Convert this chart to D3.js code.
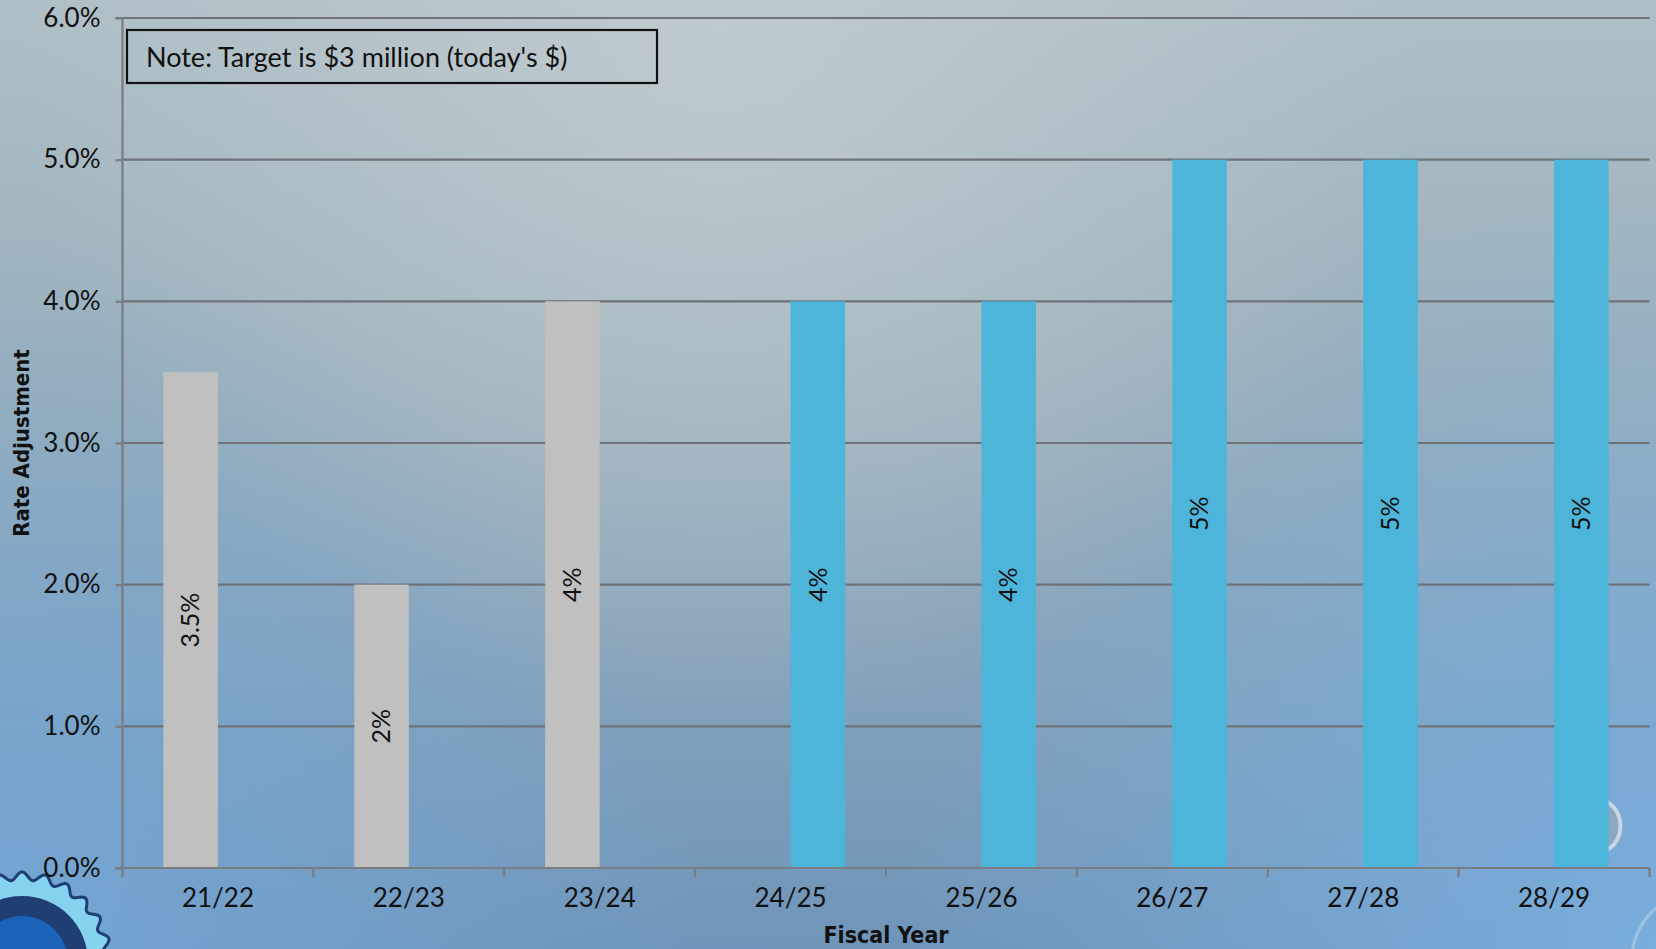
<!DOCTYPE html>
<html>
<head>
<meta charset="utf-8">
<script src="https://cdn.jsdelivr.net/npm/d3@7/dist/d3.min.js"></script>
<style>
  html, body { margin: 0; padding: 0; overflow: hidden; }
  svg { display: block; }
</style>
</head>
<body>
<svg id="chart" width="1656" height="949"></svg>
<script>
// ---- Data ----
const categories = ["21/22", "22/23", "23/24", "24/25", "25/26", "26/27", "27/28", "28/29"];
const seriesNames = ["Adopted", "Projected"];
const adoptedValues = [3.5, 2, 4, null, null, null, null, null];
const projectedValues = [null, null, null, 4, 4, 5, 5, 5];
const adoptedLabels = ["3.5%", "2%", "4%", null, null, null, null, null];
const projectedLabels = [null, null, null, "4%", "4%", "5%", "5%", "5%"];
const yTickValues = [0, 1, 2, 3, 4, 5, 6];
const noteText = "Note: Target is $3 million (today's $)";
const xTitle = "Fiscal Year";
const yTitle = "Rate Adjustment";

// ---- Layout ----
const W = 1656, H = 949;
const plot = { left: 122.5, right: 1649.5, top: 18, bottom: 868 };
const tickFont = "Lato, 'Noto Sans', sans-serif";
const titleFont = "'Liberation Sans Narrow', 'DejaVu Sans Condensed', 'Roboto', sans-serif";

const svg = d3.select("#chart");
const defs = svg.append("defs");

// Background: vertical base + radial highlight + blue bottom corners
const base = defs.append("linearGradient").attr("id", "bgBase")
  .attr("x1", 0).attr("x2", 0).attr("y1", 0).attr("y2", 1);
base.append("stop").attr("offset", 0).attr("stop-color", "#afbfc6");
base.append("stop").attr("offset", 0.45).attr("stop-color", "#97adba");
base.append("stop").attr("offset", 1).attr("stop-color", "#6f95ba");

const hi = defs.append("radialGradient").attr("id", "bgHi")
  .attr("gradientUnits", "userSpaceOnUse")
  .attr("cx", 720).attr("cy", 30).attr("r", 700);
hi.append("stop").attr("offset", 0).attr("stop-color", "#c2ccd0").attr("stop-opacity", 0.85);
hi.append("stop").attr("offset", 1).attr("stop-color", "#c2ccd0").attr("stop-opacity", 0);

const cornerL = defs.append("radialGradient").attr("id", "cornerL")
  .attr("gradientUnits", "userSpaceOnUse")
  .attr("cx", 0).attr("cy", 949).attr("r", 700);
cornerL.append("stop").attr("offset", 0).attr("stop-color", "#74a8d8").attr("stop-opacity", 0.85);
cornerL.append("stop").attr("offset", 1).attr("stop-color", "#74a8d8").attr("stop-opacity", 0);

const cornerR = defs.append("radialGradient").attr("id", "cornerR")
  .attr("gradientUnits", "userSpaceOnUse")
  .attr("cx", 1656).attr("cy", 949).attr("r", 750);
cornerR.append("stop").attr("offset", 0).attr("stop-color", "#7ab0e0").attr("stop-opacity", 0.9);
cornerR.append("stop").attr("offset", 1).attr("stop-color", "#7ab0e0").attr("stop-opacity", 0);

svg.append("rect").attr("width", W).attr("height", H).attr("fill", "url(#bgBase)");
svg.append("rect").attr("width", W).attr("height", H).attr("fill", "url(#bgHi)");
svg.append("rect").attr("width", W).attr("height", H).attr("fill", "url(#cornerL)");
svg.append("rect").attr("width", W).attr("height", H).attr("fill", "url(#cornerR)");

// ---- Decorations (logo fragment bottom-left, bubbles bottom-right) ----
const deco = svg.append("g").attr("class", "decoration");
(function gear() {
  const cx = 22, cy = 962, rOut = 90, rIn = 82, teeth = 24;
  const pts = [];
  for (let i = 0; i <= 720; i++) {
    const a = i / 720 * 2 * Math.PI;
    const r = (rOut + rIn) / 2 + (rOut - rIn) / 2 * Math.cos(a * teeth);
    pts.push([cx + r * Math.cos(a), cy + r * Math.sin(a)]);
  }
  deco.append("path").attr("d", d3.line()(pts) + "Z")
    .attr("fill", "#85d3ee").attr("stroke", "#1d3f73").attr("stroke-width", 3);
  deco.append("circle").attr("cx", cx).attr("cy", cy).attr("r", 66)
    .attr("fill", "#1f3f72");
  deco.append("circle").attr("cx", cx).attr("cy", cy).attr("r", 46)
    .attr("fill", "#1a63b8");
})();
deco.append("path")
  .attr("d", "M1606,802 A20,25 0 0 1 1606,850")
  .attr("fill", "#8fa8be").attr("stroke", "#d8dde2").attr("stroke-width", 4).attr("opacity", 0.85);
deco.append("circle").attr("cx", 1700).attr("cy", 960).attr("r", 68)
  .attr("fill", "none").attr("stroke", "#c5d6e6").attr("stroke-width", 3).attr("opacity", 0.5);

// ---- Scales ----
const x0 = d3.scaleBand().domain(categories).range([plot.left, plot.right])
  .paddingInner(0).paddingOuter(0);
// Excel-like gap width 150%: two bars + 1.5 bar gap per category
const bw = x0.bandwidth() / 3.5;
const x1 = d3.scaleBand().domain(seriesNames)
  .range([0.75 * bw, 2.75 * bw]).padding(0);
const y = d3.scaleLinear().domain([0, 6]).range([plot.bottom, plot.top]);

// ---- Gridlines ----
svg.append("g").selectAll("line").data(yTickValues.filter(d => d > 0)).join("line")
  .attr("x1", plot.left).attr("x2", plot.right)
  .attr("y1", d => y(d)).attr("y2", d => y(d))
  .attr("stroke", "#6f7276").attr("stroke-width", 2.2);

// ---- Bars ----
const rows = categories.map((c, i) => ({
  cat: c,
  vals: [
    { s: "Adopted", v: adoptedValues[i], label: adoptedLabels[i], color: "#c0c0c0" },
    { s: "Projected", v: projectedValues[i], label: projectedLabels[i], color: "#4db5d9" }
  ].filter(d => d.v !== null)
}));

const groups = svg.append("g").selectAll("g").data(rows).join("g")
  .attr("transform", d => `translate(${x0(d.cat)},0)`);

groups.selectAll("rect").data(d => d.vals).join("rect")
  .attr("x", d => x1(d.s))
  .attr("width", x1.bandwidth())
  .attr("y", d => y(d.v))
  .attr("height", d => y(0) - y(d.v))
  .attr("fill", d => d.color);

groups.selectAll("text").data(d => d.vals).join("text")
  .attr("transform", d => `translate(${x1(d.s) + x1.bandwidth() / 2},${(y(d.v) + y(0)) / 2}) rotate(-90)`)
  .attr("text-anchor", "middle")
  .attr("dy", "0.35em")
  .attr("font-family", tickFont)
  .attr("font-size", 25)
  .attr("fill", "#111")
  .text(d => d.label);

// ---- Axes ----
const yAxis = d3.axisLeft(y).tickValues(yTickValues)
  .tickFormat(d => d3.format(".1f")(d) + "%")
  .tickSize(7).tickPadding(15);
const gy = svg.append("g").attr("transform", `translate(${plot.left},0)`).call(yAxis);
gy.select(".domain").attr("stroke", "#7a7c80").attr("stroke-width", 2.2)
  .attr("d", `M-7,${plot.top}H0V${plot.bottom}H-7`);
gy.selectAll(".tick line").attr("stroke", "#7a7c80").attr("stroke-width", 2.2);
gy.selectAll(".tick text").attr("font-family", tickFont).attr("font-size", 26).attr("fill", "#111");

const xAxis = d3.axisBottom(x0).tickSize(0).tickPadding(21);
const gx = svg.append("g").attr("transform", `translate(0,${plot.bottom})`).call(xAxis);
gx.select(".domain").attr("stroke", "#7a7c80").attr("stroke-width", 2.2)
  .attr("d", `M${plot.left},0H${plot.right}`);
gx.selectAll(".tick text").attr("font-family", tickFont).attr("font-size", 26).attr("fill", "#111");
// category boundary ticks
const bounds = categories.map(c => x0(c)).concat([plot.right]);
gx.append("g").selectAll("line").data(bounds).join("line")
  .attr("x1", d => d).attr("x2", d => d).attr("y1", 0).attr("y2", 9)
  .attr("stroke", "#7a7c80").attr("stroke-width", 2.2);

// ---- Axis titles ----
svg.append("text")
  .attr("x", (plot.left + plot.right) / 2).attr("y", 943)
  .attr("text-anchor", "middle")
  .attr("font-family", titleFont).attr("font-weight", "bold").attr("font-size", 23)
  .attr("fill", "#111").text(xTitle);

svg.append("text")
  .attr("transform", `translate(29,${(plot.top + plot.bottom) / 2}) rotate(-90)`)
  .attr("text-anchor", "middle")
  .attr("font-family", titleFont).attr("font-weight", "bold").attr("font-size", 22)
  .attr("fill", "#111").text(yTitle);

// ---- Note box ----
svg.append("rect")
  .attr("x", 127).attr("y", 30).attr("width", 530).attr("height", 53)
  .attr("fill", "none").attr("stroke", "#111").attr("stroke-width", 2.2);
svg.append("text")
  .attr("x", 146).attr("y", 67)
  .attr("font-family", tickFont).attr("font-size", 27)
  .attr("fill", "#111").text(noteText);
</script>
</body>
</html>
